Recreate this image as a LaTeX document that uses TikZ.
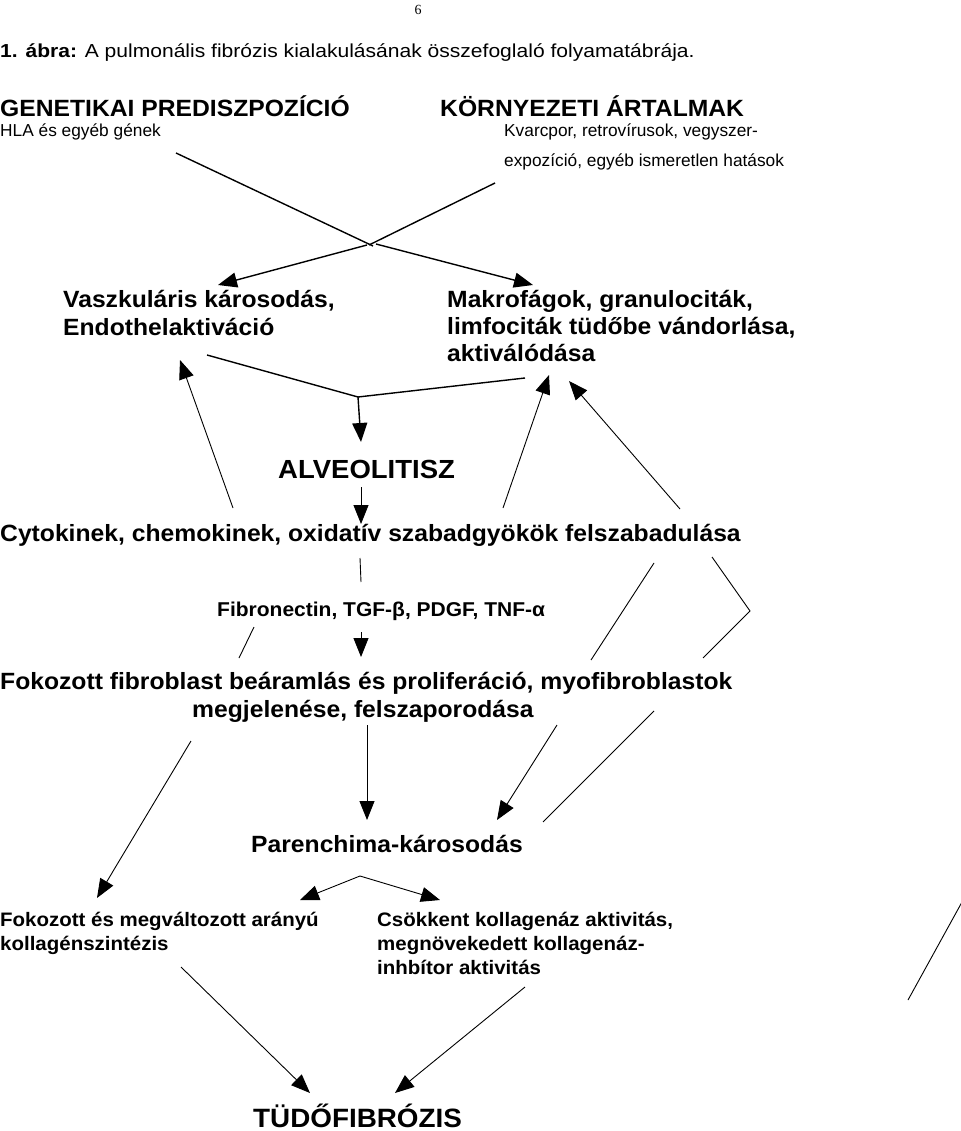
\documentclass[tikz,border=0pt]{standalone}
\usepackage{fontspec}
\setmainfont{Liberation Sans}[BoldFeatures={FakeStretch=1.05}]
\newfontfamily\cimbetu{Liberation Sans}[FakeStretch=1.12,BoldFeatures={FakeStretch=1.12}]
\newfontfamily\oldalszam{Liberation Serif}
\usetikzlibrary{arrows.meta}

\begin{document}
\begin{tikzpicture}[x=1pt,y=-1pt,>={Triangle[length=19pt,width=15pt]},
		vastag/.style={line width=1.4pt},
		vekony/.style={line width=0.9pt},
		felirat/.style={anchor=base west,inner sep=0pt},
		nagy/.style={felirat,font=\fontsize{23.5}{28}\selectfont\bfseries},
		kozep/.style={felirat,font=\fontsize{23.5}{28}\selectfont\bfseries},
		kicsi/.style={felirat,font=\fontsize{19.5}{24}\selectfont\bfseries},
		sima/.style={felirat,font=\fontsize{17.3}{20}\selectfont}]
		\useasboundingbox (0,0) rectangle (960,1131);
		% Oldalszam, cim
		\node[anchor=base,inner sep=0pt,font=\oldalszam\fontsize{14}{16}\selectfont] (oldal) at (418,15) {6};
		\node[felirat,font=\cimbetu\fontsize{18.8}{22}\selectfont] (cim) at (0,58) {\textbf{1. ábra:} A pulmonális fibrózis kialakulásának összefoglaló folyamatábrája.};
		
		% Genetika
		\node[nagy] (gen) at (0,117) {GENETIKAI PREDISZPOZÍCIÓ};
		\node[sima] (hla) at (0,137) {HLA és egyéb gének};
		% Kornyezet
		\node[nagy] (korny) at (440,117) {KÖRNYEZETI ÁRTALMAK};
		\node[sima] (kvarc1) at (504,137) {Kvarcpor, retrovírusok, vegyszer-};
		\node[sima] (kvarc2) at (504,167) {expozíció, egyéb ismeretlen hatások};
		
		% Vaszkularis / Makrofagok
		\node[kozep] (vask1) at (63,307) {Vaszkuláris károsodás,};
		\node[kozep] (vask2) at (63,335) {Endothelaktiváció};
		\node[kozep] (makro1) at (447,307) {Makrofágok, granulociták,};
		\node[kozep] (makro2) at (447,334) {limfociták tüdőbe vándorlása,};
		\node[kozep] (makro3) at (447,361) {aktiválódása};
		
		% Alveolitisz, cytokinek
		\node[felirat,font=\fontsize{26.2}{30}\selectfont\bfseries] (alv) at (278,478) {ALVEOLITISZ};
		\node[kozep] (cyto) at (0,541) {Cytokinek, chemokinek, oxidatív szabadgyökök felszabadulása};
		\node[felirat,font=\fontsize{20}{24}\selectfont\bfseries] (fibro) at (217,616) {Fibronectin, TGF-β, PDGF, TNF-α};
		\node[kozep] (fok1) at (0,689) {Fokozott fibroblast beáramlás és proliferáció, myofibroblastok};
		\node[kozep] (fok2) at (192,717) {megjelenése, felszaporodása};
		
		% Parenchima
		\node[kozep] (paren) at (251,852) {Parenchima-károsodás};
		\node[kicsi] (kol1) at (0,926) {Fokozott és megváltozott arányú};
		\node[kicsi] (kol2) at (0,950) {kollagénszintézis};
		\node[kicsi] (csok1) at (377,926) {Csökkent kollagenáz aktivitás,};
		\node[kicsi] (csok2) at (377,950) {megnövekedett kollagenáz-};
		\node[kicsi] (csok3) at (377,974) {inhbítor aktivitás};
		\node[felirat,font=\fontsize{26.5}{30}\selectfont\bfseries] (tudo) at (253,1127) {TÜDŐFIBRÓZIS};
		
		% Pontok
		\coordinate (g1) at (176,153);  \coordinate (k1) at (495,183);
		\coordinate (x1) at (373,246);  \coordinate (x2) at (369,245);
		\coordinate (s1) at (367,245);  \coordinate (s2) at (376,244);
		\coordinate (vt) at (218,285);  \coordinate (mt) at (533,285);
		\coordinate (v1) at (207,355);  \coordinate (m1) at (525,378);
		\coordinate (ossz) at (358,397); \coordinate (alvt) at (361,442);
		\coordinate (a1) at (361,487);  \coordinate (cyt) at (361,524);
		\coordinate (f1) at (233,508);  \coordinate (f1t) at (180,360);
		\coordinate (f2) at (503,508);  \coordinate (f2t) at (549,375);
		\coordinate (f3) at (680,509);  \coordinate (f3t) at (569,381);
		\coordinate (c1) at (360,558);  \coordinate (c2) at (361,582);
		\coordinate (b1) at (254,627);  \coordinate (b2) at (239,658);
		\coordinate (n1) at (361,632);  \coordinate (n1t) at (361,657);
		\coordinate (j1) at (654,563);  \coordinate (j2) at (591,660);
		\coordinate (z1) at (712,557);  \coordinate (z2) at (750,611);
		\coordinate (z3) at (703,658);
		\coordinate (p1) at (367,725);  \coordinate (p1t) at (367,820);
		\coordinate (p2) at (557,725);  \coordinate (p2t) at (497,820);
		\coordinate (p3) at (654,711);  \coordinate (p4) at (543,822);
		\coordinate (h1) at (191,741);  \coordinate (h1t) at (97,898);
		\coordinate (ag) at (360,876);
		\coordinate (agb) at (300,900); \coordinate (agj) at (440,900);
		\coordinate (t1) at (181,967);  \coordinate (t1t) at (310,1093);
		\coordinate (t2) at (525,987);  \coordinate (t2t) at (395,1093);
		\coordinate (r1) at (962,902);  \coordinate (r2) at (908,1000);
		
		% Felso agak
		\draw[vastag] (g1) -- (x1);
		\draw[vastag] (k1) -- (x2);
		\draw[vastag,->] (s1) -- (vt);
		\draw[vastag,->] (s2) -- (mt);
		% Osszefutas
		\draw[vastag] (v1) -- (ossz) -- (m1);
		\draw[vastag,->] (ossz) -- (alvt);
		\draw[vekony,->] (a1) -- (cyt);
		% Visszacsatolas
		\draw[vekony,->] (f1) -- (f1t);
		\draw[vekony,->] (f2) -- (f2t);
		\draw[vekony,->] (f3) -- (f3t);
		% Kozepso reszek
		\draw[vekony] (c1) -- (c2);
		\draw[vekony] (b1) -- (b2);
		\draw[vekony,->] (n1) -- (n1t);
		\draw[vekony] (j1) -- (j2);
		\draw[vekony] (z1) -- (z2) -- (z3);
		\draw[vekony,->] (p1) -- (p1t);
		\draw[vekony,->] (p2) -- (p2t);
		\draw[vekony] (p3) -- (p4);
		\draw[vekony,->] (h1) -- (h1t);
		% Also agak
		\draw[vekony,->] (ag) -- (agb);
		\draw[vekony,->] (ag) -- (agj);
		\draw[vekony,->] (t1) -- (t1t);
		\draw[vekony,->] (t2) -- (t2t);
		\draw[vekony] (r1) -- (r2);
	\end{tikzpicture}
\end{document}
